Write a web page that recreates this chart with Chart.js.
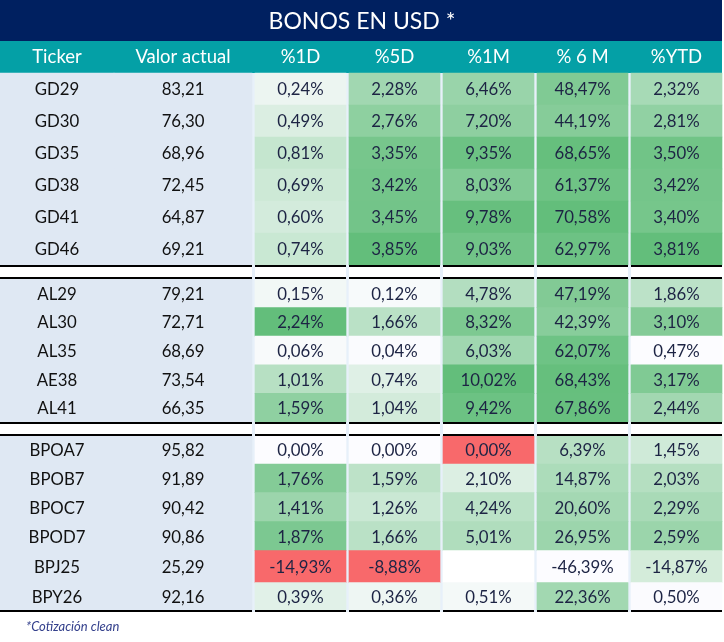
<!DOCTYPE html>
<html><head><meta charset="utf-8">
<script src="https://cdn.jsdelivr.net/npm/chart.js@4.4.1/dist/chart.umd.min.js"></script>
<style>html,body{margin:0;padding:0;background:#fff;}#wrap{width:724px;height:642px;}</style>
</head><body><div id="wrap"><canvas id="c" width="724" height="642"></canvas></div>
<script>
// ---------------- DATA ----------------
const title = 'BONOS EN USD *';
const footnote = '*Cotización clean';
const headers = ['Ticker', 'Valor actual', '%1D', '%5D', '%1M', '% 6 M', '%YTD'];
const tickers = ['GD29','GD30','GD35','GD38','GD41','GD46','AL29','AL30','AL35','AE38','AL41','BPOA7','BPOB7','BPOC7','BPOD7','BPJ25','BPY26'];
const valorActual = [83.21,76.30,68.96,72.45,64.87,69.21,79.21,72.71,68.69,73.54,66.35,95.82,91.89,90.42,90.86,25.29,92.16];
const pct1D  = [0.24,0.49,0.81,0.69,0.60,0.74,0.15,2.24,0.06,1.01,1.59,0.00,1.76,1.41,1.87,-14.93,0.39];
const pct5D  = [2.28,2.76,3.35,3.42,3.45,3.85,0.12,1.66,0.04,0.74,1.04,0.00,1.59,1.26,1.66,-8.88,0.36];
const pct1M  = [6.46,7.20,9.35,8.03,9.78,9.03,4.78,8.32,6.03,10.02,9.42,0.00,2.10,4.24,5.01,null,0.51];
const pct6M  = [48.47,44.19,68.65,61.37,70.58,62.97,47.19,42.39,62.07,68.43,67.86,6.39,14.87,20.60,26.95,-46.39,22.36];
const pctYTD = [2.32,2.81,3.50,3.42,3.40,3.81,1.86,3.10,0.47,3.17,2.44,1.45,2.03,2.29,2.59,-14.87,0.50];
const groupSizes = [6, 5, 6];

// ---------------- LAYOUT / STYLE ----------------
const W = 724, H = 642;
const colEdges = [[0,114],[114,252],[255,346],[349,440],[443,534],[537,628],[631,722]];
const tableRight = 722;
const titleBand = [0, 41], headerBand = [41, 73];
const groupRowHeights = [[32,32,32,32,32,32],[28.6,28.6,28.6,28.6,28.6],[28,28.7,29,29,32,27.3]];
const groupGap = 14, lineW = 2;
const FONT = 'Lato, "Open Sans", sans-serif';
const NAVY = '#002060', TEAL = '#04a0a6', LEFTBG = '#dfe8f3', SEP = '#e7f0fa';
const RED = [248,105,107], WHITE = [252,252,255], GREEN = [99,190,123];
const colourRule = ['none','none','mid0','mid0','mid0','minmax','minmaxPos'];
const cellOverrides = {'15,6': '#d4ecda'};

// row geometry
const rowTop = [], rowH = [], groupSpans = [];
{
  let y = headerBand[1];
  groupRowHeights.forEach((hs, g) => {
    if (g > 0) y += groupGap;
    const start = y;
    hs.forEach(h => { rowTop.push(y); rowH.push(h); y += h; });
    groupSpans.push([start, y]);
  });
}

// colour helpers
const mix = (a, b, t) => { t = Math.max(0, Math.min(1, t)); return 'rgb(' + a.map((v, i) => Math.round(v + (b[i] - v) * t)).join(',') + ')'; };
const columns = [null, valorActual, pct1D, pct5D, pct1M, pct6M, pctYTD];
function cellColour(c, r) {
  if (c < 2) return LEFTBG;
  if (cellOverrides[r + ',' + c]) return cellOverrides[r + ',' + c];
  const vals = columns[c].filter(v => v !== null);
  const v = columns[c][r];
  if (v === null) return '#ffffff';
  const mn = Math.min(...vals), mx = Math.max(...vals);
  const rule = colourRule[c];
  if (rule === 'mid0') {
    if (v <= mn) return mix(RED, RED, 0);
    if (v < 0) return mix(WHITE, RED, v / mn);
    return mix(WHITE, GREEN, v / mx);
  }
  if (rule === 'minmax') return mix(WHITE, GREEN, (v - mn) / (mx - mn));
  const pos = vals.filter(x => x >= 0); const lo = Math.min(...pos);
  return mix(WHITE, GREEN, (v - lo) / (mx - lo));
}
const fmt = v => v === null ? '' : v.toFixed(2).replace('.', ',');
function cellText(c, r) {
  if (c === 0) return tickers[r];
  if (c === 1) return fmt(valorActual[r]);
  const v = columns[c][r];
  return v === null ? '' : fmt(v) + '%';
}

const datasets = colEdges.map((e, c) => ({
  label: headers[c],
  data: tickers.map((_, r) => ({ x: (e[0] + e[1]) / 2, y: [rowTop[r], rowTop[r] + rowH[r]] })),
  backgroundColor: tickers.map((_, r) => cellColour(c, r)),
  barThickness: e[1] - e[0],
  grouped: false,
  borderWidth: 0,
  borderSkipped: false
}));

const tablePlugin = {
  id: 'tablePlugin',
  beforeDatasetsDraw(chart) {
    const { ctx, scales: { x, y } } = chart;
    ctx.save();
    const X = v => x.getPixelForValue(v), Y = v => y.getPixelForValue(v);
    ctx.fillStyle = NAVY;
    ctx.fillRect(X(0), Y(titleBand[0]), X(tableRight) - X(0), Y(titleBand[1]) - Y(titleBand[0]));
    ctx.fillStyle = TEAL;
    ctx.fillRect(X(0), Y(headerBand[0]), X(tableRight) - X(0), Y(headerBand[1]) - Y(headerBand[0]));
    const bottom = groupSpans[groupSpans.length - 1][1] + lineW;
    ctx.fillStyle = SEP;
    for (let c = 1; c < colEdges.length - 1; c++) {
      const a = colEdges[c][1], b = colEdges[c + 1][0];
      if (b > a) ctx.fillRect(X(a), Y(headerBand[1]), X(b) - X(a), Y(bottom) - Y(headerBand[1]));
    }
    ctx.restore();
  },
  afterDatasetsDraw(chart) {
    const { ctx, scales: { x, y } } = chart;
    const X = v => x.getPixelForValue(v), Y = v => y.getPixelForValue(v);
    ctx.save();
    ctx.fillStyle = '#000';
    const spans = [[0, 252]].concat(colEdges.slice(2));
    groupSpans.forEach((g, gi) => {
      spans.forEach(s => {
        if (gi > 0) ctx.fillRect(X(s[0]), Y(g[0] - lineW), X(s[1]) - X(s[0]), lineW);
        ctx.fillRect(X(s[0]), Y(g[1]), X(s[1]) - X(s[0]), lineW);
      });
    });
    ctx.textAlign = 'center'; ctx.textBaseline = 'middle';
    ctx.fillStyle = '#ffffff';
    ctx.font = '23px ' + FONT;
    ctx.fillText(title, X(W / 2), Y((titleBand[0] + titleBand[1]) / 2) + 1);
    ctx.font = '18.5px ' + FONT;
    colEdges.forEach((e, c) => ctx.fillText(headers[c], X((e[0] + e[1]) / 2), Y((headerBand[0] + headerBand[1]) / 2)));
    chart.data.datasets.forEach((ds, c) => {
      const meta = chart.getDatasetMeta(c);
      meta.data.forEach((el, r) => {
        const t = cellText(c, r);
        if (!t) return;
        ctx.fillStyle = c < 2 ? '#111111' : '#1d2444';
        ctx.font = '16.8px ' + FONT;
        ctx.fillText(t, el.x, (el.y + el.base) / 2 + 1);
      });
    });
    ctx.textAlign = 'left';
    ctx.fillStyle = '#34408c';
    ctx.font = 'italic 13px ' + FONT;
    ctx.fillText(footnote, X(26), Y(627));
    ctx.restore();
  }
};

new Chart(document.getElementById('c'), {
  type: 'bar',
  data: { datasets },
  options: {
    responsive: false,
    animation: false,
    devicePixelRatio: 1,
    layout: { padding: 0 },
    plugins: { legend: { display: false }, tooltip: { enabled: false }, title: { display: false } },
    scales: {
      x: { type: 'linear', min: 0, max: W, offset: false, display: false },
      y: { type: 'linear', min: 0, max: H, reverse: true, display: false }
    }
  },
  plugins: [tablePlugin]
});
</script>
</body></html>
